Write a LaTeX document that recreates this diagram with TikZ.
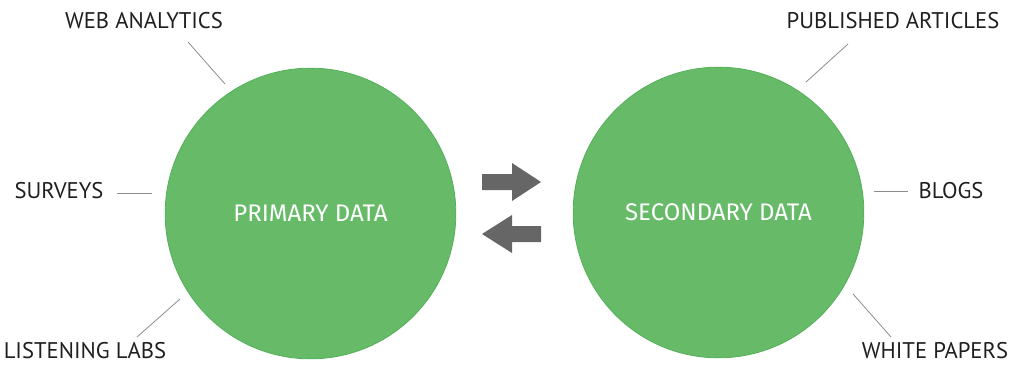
\documentclass[tikz,border=0pt]{standalone}
\usepackage{fontspec}
\setmainfont{PT Sans}
\newfontfamily\circlefont{Fira Sans}
\usetikzlibrary{positioning}
\definecolor{datagreen}{RGB}{103,187,104}
\definecolor{datarim}{RGB}{82,176,88}
\definecolor{leadergray}{RGB}{140,140,140}
\definecolor{arrowgray}{RGB}{102,102,102}

\begin{document}
\begin{tikzpicture}[
  x = 0.75pt, y = -0.75pt,
  every node/.style = {inner sep = 0pt},
  source/.style = {circle, minimum size = 218pt, fill = datagreen, draw = datarim,
                   line width = 0.6pt, text = white, font = \circlefont\fontsize{18}{21}\selectfont},
  item/.style = {text = black!88, font = \fontsize{17}{20}\selectfont},
  leader/.style = {draw = leadergray, line width = 0.6pt}
  ]
  \useasboundingbox (0,0) rectangle (1016,364);

  % the two kinds of data
  \node[source] (primary) at (310.5,213.5) {PRIMARY DATA};
  \node[source] (secondary) at (718.5,212.5) {SECONDARY DATA};

  % where they come from
  \node[item] (web) at (144,21) {WEB ANALYTICS};
  \node[item] (surveys) at (59,191) {SURVEYS};
  \node[item] (labs) at (85,351) {LISTENING LABS};
  \node[item] (articles) at (893,21) {PUBLISHED ARTICLES};
  \node[item] (blogs) at (951,191) {BLOGS};
  \node[item] (papers) at (935,351) {WHITE PAPERS};

  \coordinate (web-a) at (188,42);
  \coordinate (web-b) at (225,84);
  \coordinate (surveys-a) at (117,193);
  \coordinate (surveys-b) at (152,193);
  \coordinate (labs-a) at (137,337);
  \coordinate (labs-b) at (180,299);
  \coordinate (articles-a) at (848,44);
  \coordinate (articles-b) at (806,82);
  \coordinate (blogs-a) at (874,191);
  \coordinate (blogs-b) at (908,191);
  \coordinate (papers-a) at (853,294);
  \coordinate (papers-b) at (891,337);

  \draw[leader] (web-a) -- (web-b);
  \draw[leader] (surveys-a) -- (surveys-b);
  \draw[leader] (labs-a) -- (labs-b);
  \draw[leader] (articles-a) -- (articles-b);
  \draw[leader] (blogs-a) -- (blogs-b);
  \draw[leader] (papers-a) -- (papers-b);

  % exchange arrows
  \fill[arrowgray] (482,174) -- (512,174) -- (512,163) -- (541,182)
    -- (512,201) -- (512,190) -- (482,190) -- cycle;
  \fill[arrowgray] (541,226) -- (512,226) -- (512,215) -- (482,234)
    -- (512,253) -- (512,242) -- (541,242) -- cycle;
\end{tikzpicture}
\end{document}
